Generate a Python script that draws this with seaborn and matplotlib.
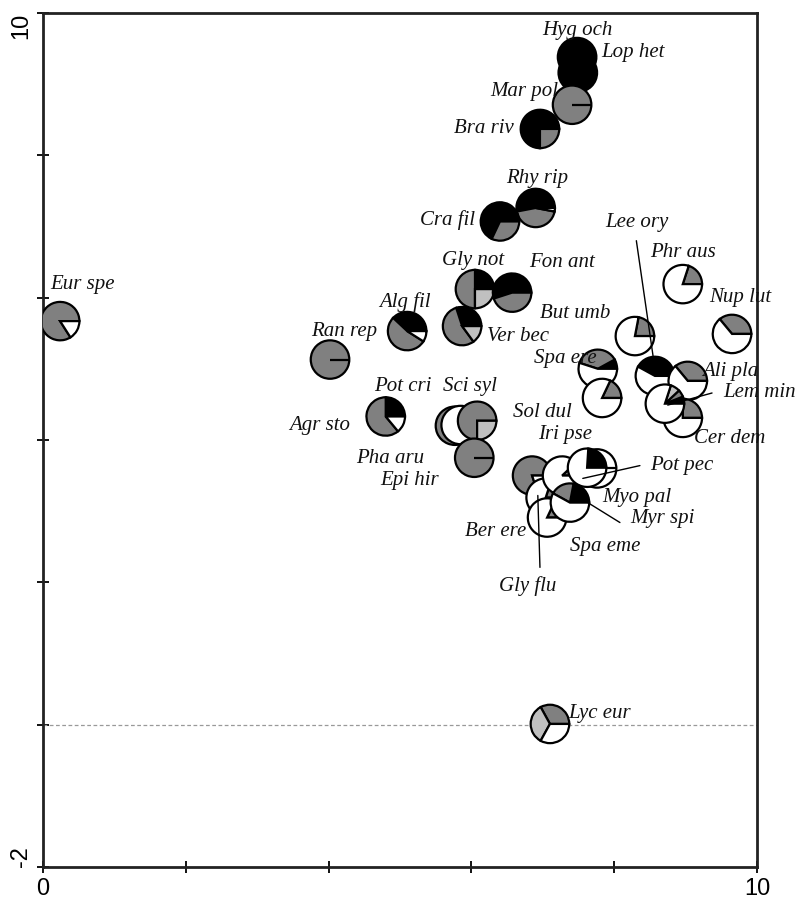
import numpy as np
import seaborn as sns
import matplotlib.pyplot as plt
from matplotlib.patches import Wedge

# species codes, ordination scores and pie composition (black, gray, light gray, white)
species = ["Hyg och", "Lop het", "Mar pol", "Bra riv", "Rhy rip", "Cra fil", "Gly not",
           "Fon ant", "Ver bec", "Alg fil", "Eur spe", "Ran rep", "Agr sto", "Pot cri",
           "Pha aru", "Sci syl", "Epi hir", "Phr aus", "Nup lut", "But umb", "Spa ere",
           "Sol dul", "Lee ory", "Ali pla", "Cer dem", "Lem min", "Ber ere", "Gly flu",
           "Myo pal", "Pot pec", "Iri pse", "Spa eme", "Myr spi", "Lyc eur"]
x_score = [7.48, 7.49, 7.41, 6.96, 6.90, 6.40, 6.05, 6.57, 5.87, 5.10, 0.24, 4.02, 4.80, 5.77,
           5.85, 6.08, 6.04, 8.96, 9.65, 8.29, 7.77, 7.83, 8.57, 9.03, 8.96, 8.71, 6.85, 7.04,
           7.27, 7.76, 7.62, 7.06, 7.38, 7.10]
y_score = [9.38, 9.16, 8.71, 8.37, 7.26, 7.07, 6.12, 6.07, 5.60, 5.53, 5.67, 5.13, 4.33, 4.20,
           4.21, 4.27, 3.75, 6.19, 5.49, 5.46, 5.00, 4.59, 4.90, 4.83, 4.31, 4.51, 3.50, 3.19,
           3.50, 3.60, 3.61, 2.91, 3.12, 0.01]
frac_black = [1, 1, 0, .75, .53, .68, .25, .55, .30, .38, 0, 0, .25, 0,
              0, 0, 0, 0, 0, 0, .08, 0, .42, 0, 0, .06, 0, 0,
              0, 0, .24, 0, .22, 0]
frac_gray = [0, 0, 1, .25, .44, .32, .50, .45, .55, .53, .84, 1, .61, 1,
             0, .75, 1, .20, .36, .22, .37, .18, 0, .36, .25, .06, .80, .20,
             .12, 0, 0, .18, .20, .33]
frac_lgray = [0, 0, 0, 0, 0, 0, .25, 0, .15, 0, 0, 0, 0, 0,
              0, .25, 0, 0, 0, 0, 0, 0, 0, 0, 0, .08, 0, 0,
              0, 0, 0, 0, 0, .34]
frac_white = [0, 0, 0, 0, .03, 0, 0, 0, 0, .09, .16, 0, .14, 0,
              1, 0, 0, .80, .64, .78, .55, .82, .58, .64, .75, .80, .20, .80,
              .88, 1, .76, .82, .58, .33]

# label positions
label_x = [7.48, 8.26, 6.74, 6.18, 6.92, 5.66, 6.02, 7.27, 6.65, 5.07, 0.56, 4.22, 3.87, 5.04,
           4.86, 5.98, 5.14, 8.96, 9.76, 7.45, 7.32, 6.99, 8.32, 9.62, 9.62, 10.04, 6.34, 6.79,
           8.32, 8.94, 7.31, 7.87, 8.68, 7.79]
label_y = [9.75, 9.44, 8.90, 8.37, 7.68, 7.09, 6.52, 6.49, 5.45, 5.94, 6.19, 5.53, 4.20, 4.75,
           3.74, 4.75, 3.43, 6.63, 6.00, 5.77, 5.14, 4.38, 7.05, 4.96, 4.02, 4.66, 2.71, 1.95,
           3.19, 3.64, 4.07, 2.51, 2.89, 0.15]

# leader lines: species, label end, pie end
leaders = {"Lee ory": ((8.31, 6.80), (8.57, 5.00)),
           "Lem min": ((9.37, 4.66), (8.75, 4.49)),
           "Pot pec": ((8.36, 3.64), (7.56, 3.46)),
           "Myr spi": ((8.08, 2.84), (7.63, 3.12)),
           "Gly flu": ((6.96, 2.21), (6.93, 3.22))}

slice_colors = ["black", "#808080", "#c0c0c0", "white"]
radius = 0.27

sns.set_style("ticks")
fig = plt.figure(figsize=(8.05, 8.99), dpi=100)
ax = fig.add_axes([0.0534, 0.0356, 0.887, 0.950])

sns.scatterplot(x=x_score, y=y_score, ax=ax, s=1, color="black", zorder=0, legend=False)

z = 3
for i, sp in enumerate(species):
    fr = [frac_black[i], frac_gray[i], frac_lgray[i], frac_white[i]]
    tot = sum(fr)
    start = 0.0
    for f, c in zip(fr, slice_colors):
        if f <= 0:
            continue
        ang = 360.0 * f / tot
        w = Wedge((x_score[i], y_score[i]), radius, start, start + ang,
                  facecolor=c, edgecolor="black", lw=1.6, zorder=z)
        ax.add_patch(w)
        start += ang
    # single-class pies still get the radius at 0 degrees
    if sum(f > 0 for f in fr) == 1 and fr[0] == 0:
        ax.plot([x_score[i], x_score[i] + radius], [y_score[i], y_score[i]],
                color="black", lw=1.6, zorder=z, solid_capstyle="butt")
    z += 1

for sp, ((x0, y0), (x1, y1)) in leaders.items():
    ax.plot([x0, x1], [y0, y1], color="black", lw=1.0, zorder=100)

for i, sp in enumerate(species):
    ax.text(label_x[i], label_y[i], sp, ha="center", va="center", fontsize=15,
            family="Liberation Serif", style="italic", color="#111111", zorder=200)

ax.axhline(0, color="#999999", lw=0.9, ls=(0, (3, 2)), zorder=1)

ax.set_xlim(0, 10)
ax.set_ylim(-2, 10)
ax.set_xticks([0, 2, 4, 6, 8, 10])
ax.set_xticklabels(["0", "", "", "", "", "10"])
ax.set_yticks([-2, 0, 2, 4, 6, 8, 10])
ax.set_yticklabels(["-2", "", "", "", "", "", "10"], rotation=90)
for lab in ax.get_yticklabels():
    if lab.get_text() == "10":
        lab.set_va("top")
    elif lab.get_text() == "-2":
        lab.set_va("bottom")
ax.tick_params(direction="inout", length=9, width=1.3, labelsize=17, colors="black")
for t in ax.get_xticklabels() + ax.get_yticklabels():
    t.set_family("Liberation Sans")
for s in ax.spines.values():
    s.set_linewidth(2)
    s.set_color("#222222")

fig.savefig("out.png", dpi=100)
